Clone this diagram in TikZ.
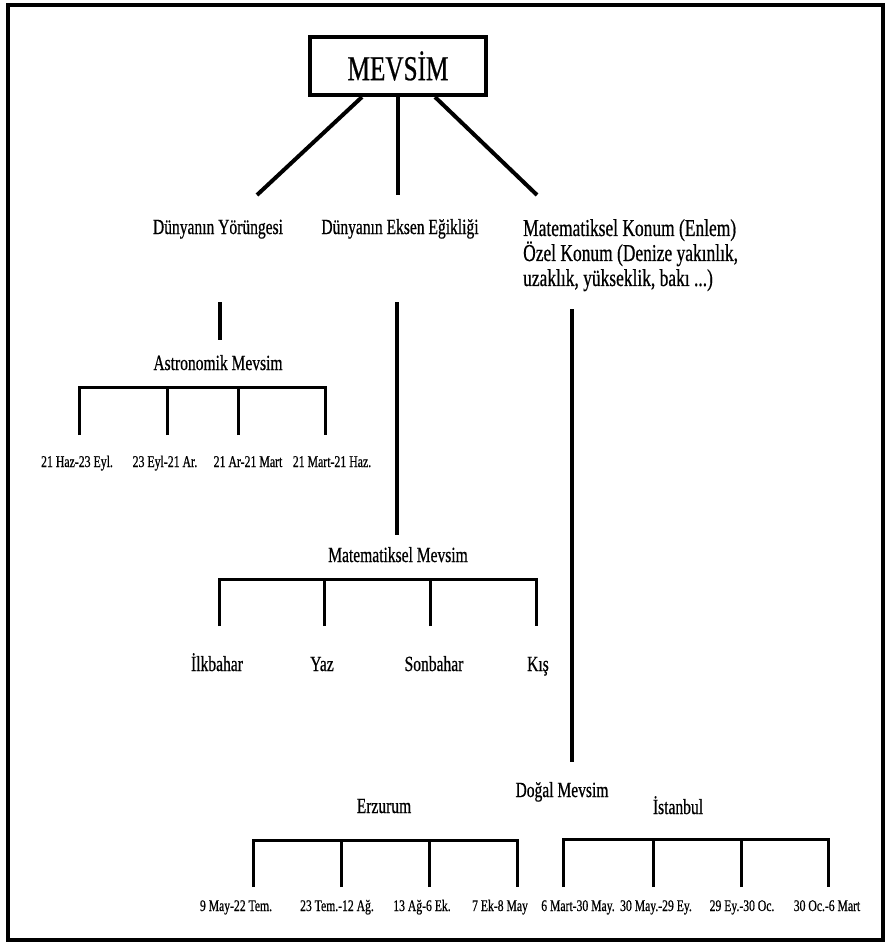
\documentclass[tikz,border=0pt]{standalone}
\usepackage{fontspec}
\setmainfont{Liberation Serif}[FakeStretch=0.72,FakeBold=0.6]
\begin{document}
\begin{tikzpicture}[x=1pt,y=-1pt,
  lbl/.style={inner sep=0pt, anchor=base, font=\fontsize{21.6}{25}\selectfont},
  small/.style={inner sep=0pt, anchor=base, font=\fontsize{16.4}{19}\selectfont},
  bot/.style={inner sep=0pt, anchor=base, font=\fontsize{16.2}{19}\selectfont},
  heavy/.style={line width=4pt},
  link/.style={line width=3.5pt},
  brk/.style={line width=3pt, line join=miter},
]
\useasboundingbox (0,0) rectangle (887,945);
\fill[white] (0,0) rectangle (887,945);
\draw[line width=4.5pt] (8,5) rectangle (883,940);

% root
\node[draw, line width=4pt, minimum width=176pt, minimum height=58pt, inner sep=0pt,
      font=\fontsize{35}{38}\selectfont] (root) at (398,66) {MEVSİM};

% headings
\node[lbl] (hY) at (218,234) {Dünyanın Yörüngesi};
\node[lbl] (hE) at (400,234) {Dünyanın Eksen Eğikliği};
\node[inner sep=0pt, anchor=north west, align=left,
      font=\fontsize{24.2}{25}\selectfont] (hM) at (523,219)
      {Matematiksel Konum (Enlem)\\Özel Konum (Denize yakınlık,\\uzaklık, yükseklik, bakı ...)};

\coordinate (eY) at (257,195);
\coordinate (eE) at (398,195);
\coordinate (eM) at (537,195);
\draw[heavy] ([xshift=-36pt]root.south) -- (eY);
\draw[heavy] (root.south) -- (eE);
\draw[heavy] ([xshift=37pt]root.south) -- (eM);

% astronomik
\coordinate (y1) at (220,302);
\coordinate (y2) at (220,340);
\draw[link] (y1) -- (y2);
\node[lbl] (ast) at (218,370) {Astronomik Mevsim};
\coordinate (a1) at (79,435);
\coordinate (a2) at (167,435);
\coordinate (a3) at (238,435);
\coordinate (a4) at (325,435);
\draw[brk] (a1) -- (a1 |- 0,387) -- (a4 |- 0,387) -- (a4);
\draw[brk] (a2) -- (a2 |- 0,387);
\draw[brk] (a3) -- (a3 |- 0,387);
\node[small] (la1) at (77,467) {21 Haz-23 Eyl.};
\node[small] (la2) at (165,467) {23 Eyl-21 Ar.};
\node[small] (la3) at (248,467) {21 Ar-21 Mart};
\node[small] (la4) at (332,467) {21 Mart-21 Haz.};

% matematiksel
\coordinate (e1) at (397,302);
\coordinate (e2) at (397,535);
\draw[link] (e1) -- (e2);
\node[lbl] (mat) at (398,562) {Matematiksel Mevsim};
\coordinate (m1) at (219,626);
\coordinate (m2) at (324,626);
\coordinate (m3) at (430,626);
\coordinate (m4) at (536,626);
\draw[brk] (m1) -- (m1 |- 0,579) -- (m4 |- 0,579) -- (m4);
\draw[brk] (m2) -- (m2 |- 0,579);
\draw[brk] (m3) -- (m3 |- 0,579);
\node[lbl] (lm1) at (217,671) {İlkbahar};
\node[lbl] (lm2) at (322,671) {Yaz};
\node[lbl] (lm3) at (434,671) {Sonbahar};
\node[lbl] (lm4) at (538,671) {Kış};

% dogal
\coordinate (n1) at (572,309);
\coordinate (n2) at (572,762);
\draw[heavy] (n1) -- (n2);
\node[lbl] (dog) at (562,797) {Doğal Mevsim};
\node[lbl] (erz) at (384,813) {Erzurum};
\node[lbl] (ist) at (678,814) {İstanbul};

\coordinate (r1) at (253,887);
\coordinate (r2) at (341,887);
\coordinate (r3) at (429,887);
\coordinate (r4) at (517,887);
\draw[brk] (r1) -- (r1 |- 0,840) -- (r4 |- 0,840) -- (r4);
\draw[brk] (r2) -- (r2 |- 0,840);
\draw[brk] (r3) -- (r3 |- 0,840);

\coordinate (s1) at (563,887);
\coordinate (s2) at (653,887);
\coordinate (s3) at (741,887);
\coordinate (s4) at (828,887);
\draw[brk] (s1) -- (s1 |- 0,839) -- (s4 |- 0,839) -- (s4);
\draw[brk] (s2) -- (s2 |- 0,839);
\draw[brk] (s3) -- (s3 |- 0,839);

\node[bot] (lr1) at (236,911) {9 May-22 Tem.};
\node[bot] (lr2) at (337,911) {23 Tem.-12 Ağ.};
\node[bot] (lr3) at (422,911) {13 Ağ-6 Ek.};
\node[bot] (lr4) at (500,911) {7 Ek-8 May};
\node[bot] (ls1) at (578,911) {6 Mart-30 May.};
\node[bot] (ls2) at (656,911) {30 May.-29 Ey.};
\node[bot] (ls3) at (742,911) {29 Ey.-30 Oc.};
\node[bot] (ls4) at (827,911) {30 Oc.-6 Mart};
\end{tikzpicture}
\end{document}
